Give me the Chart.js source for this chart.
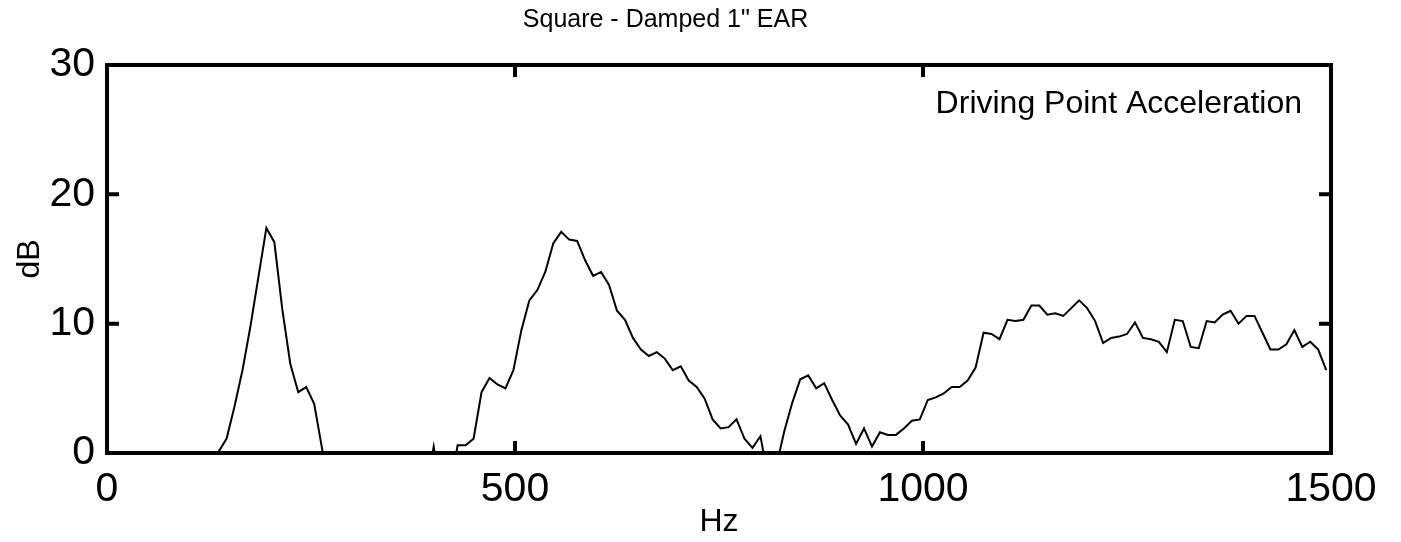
<!DOCTYPE html>
<html>
<head>
<meta charset="utf-8">
<script src="https://cdn.jsdelivr.net/npm/chart.js@4.4.1/dist/chart.umd.min.js"></script>
<style>
  html, body { margin: 0; padding: 0; background: #fff; }
  #wrap { width: 1401px; height: 542px; position: relative; }
</style>
</head>
<body>
<div id="wrap"><canvas id="c" width="1401" height="542"></canvas></div>
<script>
// FFT bin spacing of the measurement (10 kHz sampling, 1024 points)
const BIN_HZ = 9.765625;

// Driving point acceleration level per frequency bin, dB (bins 0..153).
// Values below 0 dB fall under the axis and are clipped.
const levelDb = [
  -3, -3, -3, -3, -3, -3, -3, -3, -3, -3,
  -3, -3, -3, -3, 0.1, 1.1, 3.6, 6.4, 9.8, 13.6,
  17.4, 16.3, 11.1, 6.9, 4.7, 5.1, 3.8, 0.3, -3, -3,
  -3, -3, -3, -3, -3, -3, -3, -3, -3, -3,
  -3, 0.5, -3, -3, 0.6, 0.6, 1.1, 4.7, 5.8, 5.3,
  5.0, 6.4, 9.5, 11.8, 12.6, 14.0, 16.2, 17.1, 16.5, 16.4,
  14.9, 13.7, 14.0, 13.0, 11.0, 10.3, 8.9, 8.0, 7.5, 7.8,
  7.3, 6.4, 6.7, 5.6, 5.1, 4.2, 2.6, 1.9, 2.0, 2.6,
  1.1, 0.4, 1.3, -2, -1, 1.7, 3.9, 5.7, 6.0, 5.0,
  5.4, 4.1, 2.9, 2.2, 0.7, 1.9, 0.5, 1.6, 1.4, 1.4,
  1.9, 2.5, 2.6, 4.1, 4.3, 4.6, 5.1, 5.1, 5.6, 6.6,
  9.3, 9.2, 8.8, 10.3, 10.2, 10.3, 11.4, 11.4, 10.7, 10.8,
  10.6, 11.2, 11.8, 11.2, 10.2, 8.5, 8.9, 9.0, 9.2, 10.1,
  8.9, 8.8, 8.6, 7.8, 10.3, 10.2, 8.2, 8.1, 10.2, 10.1,
  10.7, 11.0, 10.0, 10.6, 10.6, 9.3, 8.0, 8.0, 8.4, 9.5,
  8.2, 8.6, 8.0, 6.4
];

const xTicks = [0, 500, 1000, 1500];
const yTicks = [0, 10, 20, 30];
const xInnerTicks = [500, 1000];
const yInnerTicks = [10, 20];

const chartTitle = 'Square - Damped 1" EAR';
const xTitle = 'Hz';
const yTitle = 'dB';
const noteText = 'Driving Point Acceleration';

const FONT = '"Liberation Sans", Arial, Helvetica, sans-serif';

const points = levelDb.map((v, i) => ({ x: i * BIN_HZ, y: v }));

// Heavy axis frame, inward tick marks and the corner note
const framePlugin = {
  id: 'frame',
  afterDatasetsDraw(chart) {
    const { ctx, chartArea: a, scales: { x, y } } = chart;
    ctx.save();
    ctx.strokeStyle = '#000';
    ctx.lineWidth = 4;
    ctx.strokeRect(a.left, a.top, a.right - a.left, a.bottom - a.top);

    const len = 12;
    ctx.beginPath();
    xInnerTicks.forEach(v => {
      const px = x.getPixelForValue(v);
      ctx.moveTo(px, a.bottom); ctx.lineTo(px, a.bottom - len);
      ctx.moveTo(px, a.top); ctx.lineTo(px, a.top + len);
    });
    yInnerTicks.forEach(v => {
      const py = y.getPixelForValue(v);
      ctx.moveTo(a.left, py); ctx.lineTo(a.left + len, py);
      ctx.moveTo(a.right, py); ctx.lineTo(a.right - len, py);
    });
    ctx.stroke();

    ctx.fillStyle = '#000';
    ctx.font = '32px ' + FONT;
    ctx.textAlign = 'right';
    ctx.textBaseline = 'middle';
    ctx.fillText(noteText, a.right - 29, a.top + 39);
    ctx.restore();
  }
};

new Chart(document.getElementById('c'), {
  type: 'line',
  data: {
    datasets: [{
      data: points,
      borderColor: '#000',
      borderWidth: 2,
      pointRadius: 0,
      tension: 0,
      fill: false
    }]
  },
  options: {
    responsive: false,
    animation: false,
    events: [],
    layout: { padding: { left: 0, right: 70, top: 0, bottom: 0 } },
    plugins: {
      legend: { display: false },
      tooltip: { enabled: false },
      title: {
        display: true,
        text: chartTitle,
        color: '#000',
        font: { family: FONT, size: 25, weight: 'normal' },
        padding: { top: 5, bottom: 30 }
      }
    },
    scales: {
      x: {
        type: 'linear',
        min: 0,
        max: 1500,
        afterFit(s) { s.height = 89; },
        afterBuildTicks(s) { s.ticks = xTicks.map(v => ({ value: v })); },
        grid: { display: false, drawTicks: false },
        border: { display: false },
        ticks: {
          color: '#000',
          padding: 12,
          maxRotation: 0,
          font: { family: FONT, size: 41 },
          callback: v => String(v)
        },
        title: {
          display: true,
          text: xTitle,
          color: '#000',
          font: { family: FONT, size: 32 },
          padding: { top: 0, bottom: 1 }
        }
      },
      y: {
        min: 0,
        max: 30,
        afterFit(s) { s.width = 107; },
        afterBuildTicks(s) { s.ticks = yTicks.map(v => ({ value: v })); },
        grid: { display: false, drawTicks: false },
        border: { display: false },
        ticks: {
          color: '#000',
          padding: 12,
          font: { family: FONT, size: 41 },
          callback: v => String(v)
        },
        title: {
          display: true,
          text: yTitle,
          color: '#000',
          font: { family: FONT, size: 32 },
          padding: { top: 11, bottom: 0 }
        }
      }
    }
  },
  plugins: [framePlugin]
});
</script>
</body>
</html>
